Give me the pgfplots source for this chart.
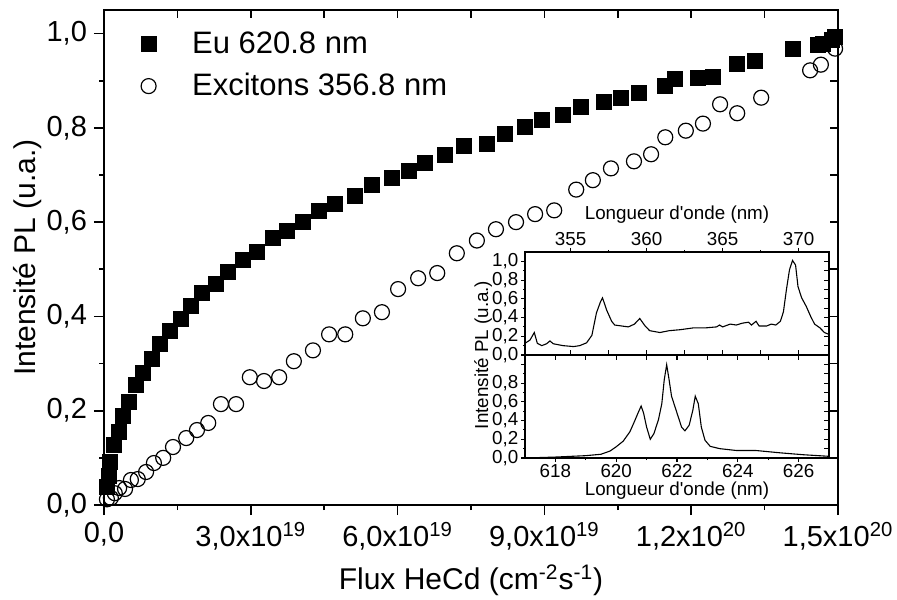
\documentclass[border=0pt]{standalone}
\usepackage{pgfplots}
\pgfplotsset{compat=1.18}
\usepackage{fontspec}
\setmainfont{Liberation Sans}[Ligatures=TeXOff]
\newcommand{\tickfs}{\fontsize{14.5}{16}\selectfont}
\newcommand{\mainfs}{\fontsize{15}{17}\selectfont}
\newcommand{\insetfs}{\fontsize{9.4}{10.5}\selectfont}

\pgfplotstableread{
x y
0.55 0.039
1.1 0.061
1.2 0.091
2.0 0.127
3.1 0.155
3.9 0.189
5.1 0.218
6.5 0.254
8.0 0.280
9.8 0.309
11.4 0.341
13.5 0.369
15.7 0.394
17.8 0.422
20.1 0.449
22.9 0.470
25.3 0.494
28.4 0.519
31.3 0.536
34.5 0.566
37.4 0.581
40.7 0.600
43.9 0.623
47.2 0.638
51.3 0.655
54.8 0.680
58.9 0.693
62.3 0.708
65.6 0.725
69.7 0.742
73.6 0.761
78.3 0.765
82.0 0.788
86.0 0.803
89.5 0.816
93.8 0.828
97.5 0.845
102.2 0.854
105.7 0.864
109.3 0.875
114.7 0.888
116.7 0.903
121.4 0.905
124.5 0.909
129.4 0.936
133.0 0.943
140.8 0.968
145.9 0.977
146.9 0.979
148.8 0.987
149.4 0.992
}\eu

\pgfplotstableread{
x y
0.6 0.012
1.4 0.015
2.2 0.025
3.1 0.036
4.3 0.034
5.5 0.053
6.9 0.055
8.6 0.070
10.2 0.089
12.1 0.100
14.1 0.123
16.8 0.142
19.0 0.159
21.3 0.174
23.9 0.214
27.0 0.214
29.8 0.271
32.7 0.263
35.8 0.271
38.8 0.305
42.7 0.328
46.0 0.362
49.3 0.362
52.9 0.396
56.8 0.409
60.1 0.458
64.2 0.481
68.1 0.492
72.1 0.534
76.2 0.561
80.1 0.585
84.2 0.600
88.1 0.617
92.0 0.625
96.5 0.669
99.9 0.689
103.6 0.714
108.3 0.729
111.8 0.744
114.7 0.780
118.9 0.794
122.4 0.809
125.9 0.850
129.4 0.831
134.3 0.864
144.3 0.922
146.5 0.934
149.4 0.968
}\exc

\pgfplotstableread{
x y
352.0 0.125
352.33 0.16
352.61 0.24
352.81 0.125
353.1 0.10
353.42 0.12
353.64 0.15
353.86 0.12
354.5 0.10
355.2 0.09
355.6 0.10
356.05 0.13
356.4 0.21
356.7 0.45
356.97 0.57
357.1 0.61
357.37 0.48
357.7 0.36
357.9 0.32
358.35 0.31
358.8 0.30
359.2 0.33
359.55 0.39
359.9 0.31
360.2 0.26
360.87 0.24
361.5 0.26
362.2 0.27
363.1 0.29
363.9 0.29
364.6 0.30
364.8 0.32
365.0 0.30
365.5 0.33
365.9 0.32
366.3 0.34
366.7 0.35
366.9 0.32
367.2 0.36
367.4 0.31
367.9 0.31
368.2 0.33
368.5 0.32
368.8 0.36
369.0 0.46
369.2 0.70
369.4 0.91
369.6 1.01
369.8 0.96
369.96 0.73
370.2 0.61
370.5 0.52
370.8 0.41
371.05 0.33
371.4 0.29
371.7 0.24
372.0 0.22
}\uv

\pgfplotstableread{
x y
617.0 0.0
618.0 0.01
619.0 0.025
619.5 0.04
619.8 0.075
620.0 0.12
620.23 0.18
620.45 0.28
620.6 0.39
620.73 0.49
620.82 0.555
620.9 0.48
621.0 0.33
621.12 0.20
621.24 0.26
621.39 0.41
621.5 0.58
621.58 0.835
621.66 0.996
621.74 0.835
621.82 0.66
622.0 0.48
622.15 0.33
622.26 0.29
622.4 0.35
622.52 0.51
622.6 0.66
622.7 0.58
622.8 0.33
622.92 0.19
623.09 0.125
623.4 0.10
623.96 0.08
624.6 0.08
625.4 0.055
626.15 0.035
627.0 0.018
}\red

\begin{document}
\begin{tikzpicture}
\path[use as bounding box] (-52pt,-47pt) rectangle (396.5pt,252.5pt);
\pgfplotsset{
  every axis/.append style={
    scale only axis,
    axis line style={line width=0.9pt},
    every tick/.append style={black, line width=0.8pt},
    xticklabel style={/pgf/number format/assume math mode=true},
    yticklabel style={/pgf/number format/.cd, fixed, fixed zerofill, precision=1, use comma, assume math mode=true},
  },
  mirror/.style={
    xtick pos=right, ytick pos=right, tick align=inside,
    xticklabels={}, yticklabels={},
  },
  inset/.style={
    width=152pt, height=51.5pt,
    axis line style={line width=0.6pt},
    every tick/.append style={black, line width=0.55pt},
    tick label style={font=\insetfs, inner sep=1.2pt},
    label style={font=\insetfs},
    ytick={0,0.2,0.4,0.6,0.8,1.0}, minor y tick num=1,
    minor x tick num=1,
    ymin=0, ymax=1.1,
  },
}
% ---------- main axis ----------
\begin{axis}[
  at={(0pt,0pt)}, anchor=south west,
  width=367pt, height=247.5pt,
  xmin=0, xmax=150, ymin=0, ymax=1.05,
  xtick={0,30,60,90,120,150},
  xticklabels={{0,0},{3,0x10\textsuperscript{19}},{6,0x10\textsuperscript{19}},{9,0x10\textsuperscript{19}},{1,2x10\textsuperscript{20}},{1,5x10\textsuperscript{20}}},
  minor x tick num=1,
  ytick={0,0.2,0.4,0.6,0.8,1.0}, minor y tick num=1,
  xtick pos=left, ytick pos=left, tick align=outside,
  major tick length=5pt, minor tick length=2.5pt,
  tick label style={font=\tickfs},
  label style={font=\mainfs},
  xlabel={Flux HeCd (cm\textsuperscript{-2}s\textsuperscript{-1})},
  ylabel={Intensité PL (u.a.)},
  xlabel style={at={(axis description cs:0.5,0)}, anchor=center, yshift=-37.5pt},
  ylabel style={at={(axis description cs:-0.1035,0.5)}, anchor=center},
  legend style={at={(axis description cs:0.05,0.965)}, anchor=north west, draw=none, fill=none,
    font=\fontsize{15.5}{17}\selectfont, row sep=4.5pt, column sep=16pt, inner sep=0pt},
  legend cell align=left,
  legend image code/.code={\draw[#1] plot coordinates {(0pt,0pt)};},
]
\addplot[only marks, mark=square*, mark size=3.75pt, black] table {\eu};
\addlegendentry{Eu 620.8 nm}
\addplot[only marks, mark=o, mark size=3.75pt, black, mark options={line width=0.6pt, fill=white}] table {\exc};
\addlegendentry{Excitons 356.8 nm}
\end{axis}
\begin{axis}[
  at={(0pt,0pt)}, anchor=south west,
  width=367pt, height=247.5pt,
  xmin=0, xmax=150, ymin=0, ymax=1.05,
  xtick={0,30,60,90,120,150}, minor x tick num=1,
  ytick={0,0.2,0.4,0.6,0.8,1.0}, minor y tick num=1,
  mirror, major tick length=4pt, minor tick length=4pt,
]
\end{axis}
% ---------- inset top (UV) ----------
\begin{axis}[
  inset,
  at={(210.5pt,75pt)}, anchor=south west,
  xmin=352, xmax=372,
  xtick={355,360,365,370},
  xtick pos=right, xticklabel pos=right, ytick pos=left, tick align=outside,
  major tick length=2pt, minor tick length=1pt,
  xlabel={Longueur d'onde (nm)},
  xlabel style={at={(axis description cs:0.5,1)}, anchor=center, yshift=18.5pt},
  ylabel={Intensité PL (u.a.)},
  ylabel style={at={(axis description cs:-0.138,0)}, anchor=center},
]
\addplot[black, line width=0.55pt] table {\uv};
\end{axis}
\begin{axis}[
  inset,
  at={(210.5pt,75pt)}, anchor=south west,
  xmin=352, xmax=372,
  xtick={355,360,365,370},
  xtick pos=left, ytick pos=right, tick align=inside,
  xticklabels={}, yticklabels={},
  major tick length=2.5pt, minor tick length=2.5pt,
]
\end{axis}
% ---------- inset bottom (Eu) ----------
\begin{axis}[
  inset,
  at={(210.5pt,23.5pt)}, anchor=south west,
  xmin=617, xmax=627,
  xtick={618,620,622,624,626},
  yticklabels={{0,0},{0,2},{0,4},{0,6},{0,8},{}},
  xtick pos=left, ytick pos=left, tick align=outside,
  major tick length=2pt, minor tick length=1pt,
  xlabel={Longueur d'onde (nm)},
  xlabel style={at={(axis description cs:0.5,0)}, anchor=center, yshift=-16.5pt},
]
\addplot[black, line width=0.55pt] table {\red};
\end{axis}
\begin{axis}[
  inset,
  at={(210.5pt,23.5pt)}, anchor=south west,
  xmin=617, xmax=627,
  xtick={618,620,622,624,626},
  mirror, major tick length=2.5pt, minor tick length=2.5pt,
]
\end{axis}
\end{tikzpicture}
\end{document}
